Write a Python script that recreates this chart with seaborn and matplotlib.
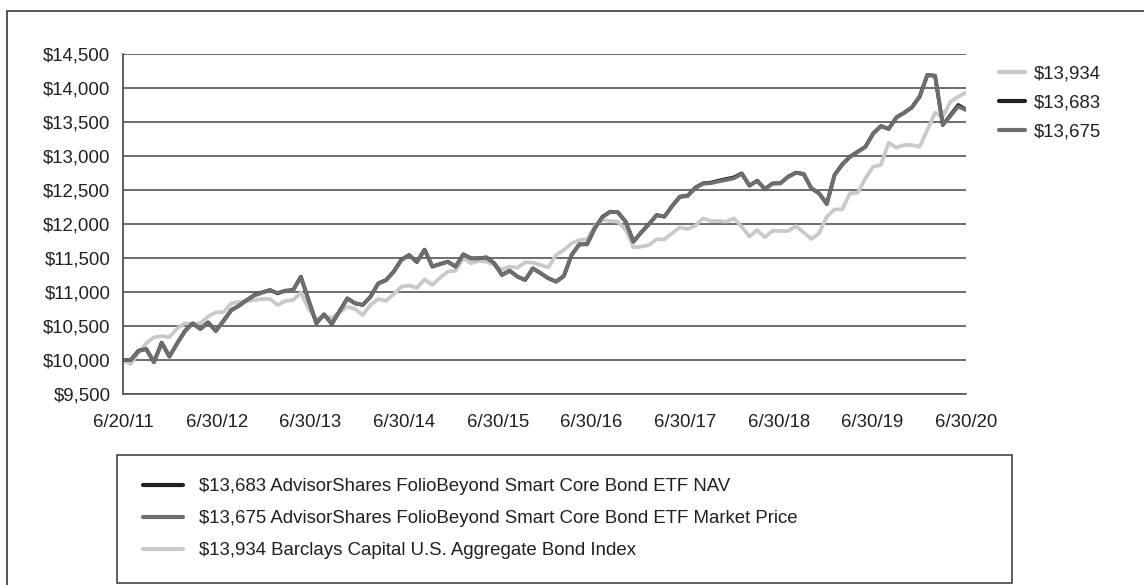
import numpy as np
import pandas as pd
import matplotlib
matplotlib.use("Agg")
import matplotlib.pyplot as plt
import seaborn as sns
from matplotlib.lines import Line2D
from matplotlib.patches import Rectangle

# ---------------- data ----------------
tick_labels = ["6/20/11", "6/30/12", "6/30/13", "6/30/14", "6/30/15",
               "6/30/16", "6/30/17", "6/30/18", "6/30/19", "6/30/20"]

y_ticks = [9500, 10000, 10500, 11000, 11500, 12000, 12500, 13000, 13500, 14000, 14500]

nav_values = [
    10000, 10000, 10137, 10162, 9970, 10255, 10050, 10245, 10426, 10540,
    10456, 10554, 10426, 10578, 10735, 10798, 10882, 10956, 10995, 11029,
    10980, 11019, 11029, 11225, 10880, 10540, 10672, 10529, 10720, 10907,
    10833, 10809, 10931, 11127, 11175, 11299, 11475, 11544, 11440, 11623,
    11373, 11412, 11446, 11373, 11554, 11495, 11495, 11510, 11422, 11250,
    11313, 11225, 11176, 11348, 11275, 11201, 11152, 11235, 11544, 11701,
    11701, 11936, 12107, 12181, 12171, 12034, 11740, 11877, 12000, 12132,
    12107, 12265, 12402, 12416, 12534, 12598, 12608, 12637, 12662, 12686,
    12745, 12564, 12637, 12515, 12598, 12598, 12696, 12755, 12735, 12525,
    12451, 12294, 12721, 12878, 12990, 13064, 13137, 13333, 13441, 13397,
    13569, 13637, 13716, 13873, 14191, 14181, 13456, 13603, 13750, 13683,
]

market_values = [
    10000, 10000, 10130, 10165, 9965, 10250, 10055, 10240, 10420, 10535,
    10460, 10550, 10430, 10570, 10730, 10795, 10880, 10950, 10990, 11025,
    10985, 11015, 11025, 11220, 10875, 10545, 10668, 10532, 10715, 10900,
    10836, 10812, 10928, 11120, 11170, 11295, 11470, 11540, 11445, 11618,
    11378, 11408, 11442, 11378, 11550, 11490, 11498, 11505, 11425, 11255,
    11310, 11228, 11180, 11345, 11278, 11205, 11155, 11232, 11540, 11698,
    11705, 11930, 12102, 12178, 12175, 12030, 11745, 11872, 11995, 12128,
    12110, 12260, 12398, 12410, 12528, 12592, 12600, 12625, 12648, 12672,
    12738, 12568, 12632, 12518, 12594, 12600, 12692, 12750, 12738, 12528,
    12455, 12298, 12715, 12872, 12985, 13060, 13132, 13328, 13436, 13400,
    13565, 13632, 13712, 13868, 14188, 14178, 13460, 13590, 13728, 13675,
]

index_values = [
    10000, 9941, 10108, 10245, 10333, 10353, 10333, 10466, 10540, 10530,
    10540, 10640, 10700, 10706, 10833, 10853, 10868, 10882, 10897, 10897,
    10809, 10868, 10882, 10990, 10750, 10600, 10640, 10620, 10700, 10784,
    10750, 10662, 10809, 10897, 10870, 10970, 11080, 11095, 11060, 11186,
    11103, 11211, 11299, 11313, 11495, 11422, 11456, 11446, 11397, 11333,
    11373, 11358, 11436, 11432, 11397, 11363, 11544, 11618, 11716, 11765,
    11775, 11971, 12059, 12044, 12034, 11912, 11657, 11667, 11691, 11775,
    11775, 11863, 11951, 11926, 11975, 12083, 12044, 12044, 12034, 12083,
    11961, 11814, 11912, 11804, 11902, 11897, 11897, 11971, 11877, 11779,
    11863, 12107, 12215, 12215, 12451, 12461, 12671, 12843, 12868, 13196,
    13123, 13162, 13162, 13137, 13382, 13637, 13578, 13799, 13873, 13934,
]

nav_name = "$13,683 AdvisorShares FolioBeyond Smart Core Bond ETF NAV"
mkt_name = "$13,675 AdvisorShares FolioBeyond Smart Core Bond ETF Market Price"
idx_name = "$13,934 Barclays Capital U.S. Aggregate Bond Index"

series_end = {idx_name: "$13,934", nav_name: "$13,683", mkt_name: "$13,675"}

colors = {nav_name: "#231f20", mkt_name: "#6d6e71", idx_name: "#c9c9c9"}

# ---------------- figure ----------------
sns.set_style("white")
plt.rcParams["font.family"] = ["Liberation Sans", "DejaVu Sans"]
TXT = "#231f20"
FS = 13.4

W, H = 1144, 585
fig = plt.figure(figsize=(W / 100, H / 100), dpi=100)
fx = lambda px: px / W
fy = lambda py: 1 - py / H

ax = fig.add_axes([fx(123), fy(394), (966 - 123) / W, (394 - 54) / H])

n = len(nav_values)
df = pd.concat([
    pd.DataFrame({"step": np.arange(n), "value": index_values, "series": idx_name}),
    pd.DataFrame({"step": np.arange(n), "value": nav_values, "series": nav_name}),
    pd.DataFrame({"step": np.arange(n), "value": market_values, "series": mkt_name}),
], ignore_index=True)

sns.lineplot(data=df, x="step", y="value", hue="series",
             hue_order=[idx_name, nav_name, mkt_name], palette=colors,
             linewidth=2.7, legend=False, ax=ax, sort=False)

ax.set_xlim(0, n - 1)
ax.set_ylim(9500, 14500)
ax.set_xticks(np.linspace(0, n - 1, len(tick_labels)))
ax.set_xticklabels(tick_labels)
ax.set_yticks(y_ticks)
ax.set_yticklabels([f"${v:,}" for v in y_ticks])
ax.set_xlabel("")
ax.set_ylabel("")

ax.yaxis.grid(True, color="#555555", linewidth=1.2, zorder=0)
ax.xaxis.grid(False)
ax.set_axisbelow(True)
for s in ["top", "right"]:
    ax.spines[s].set_visible(False)
ax.spines["left"].set_color("#444444")
ax.spines["left"].set_linewidth(1.2)
ax.spines["bottom"].set_color("#555555")
ax.spines["bottom"].set_linewidth(1.2)

ax.tick_params(axis="x", direction="out", length=6.5, width=1.2, color="#444444",
               pad=8, labelsize=FS, labelcolor=TXT)
ax.tick_params(axis="y", length=0, pad=9, labelsize=FS, labelcolor=TXT)
ax.set_facecolor("white")

# outer frame (left and top edges visible)
fig.add_artist(Line2D([fx(7), fx(7)], [fy(11), fy(590)], transform=fig.transFigure,
                      color="#555555", linewidth=1.4))
fig.add_artist(Line2D([fx(7), fx(1150)], [fy(11), fy(11)], transform=fig.transFigure,
                      color="#555555", linewidth=1.4))

# right-side value legend
order_r = [idx_name, nav_name, mkt_name]
handles_r = [Line2D([0], [0], color=colors[k], linewidth=3.0) for k in order_r]
fig.legend(handles_r, [series_end[k] for k in order_r], loc="upper left",
           bbox_to_anchor=(fx(999), fy(65)), frameon=False, fontsize=FS,
           handlelength=1.4, handletextpad=0.48, labelspacing=0.65,
           borderpad=0, borderaxespad=0, labelcolor=TXT)

# bottom boxed legend
fig.add_artist(Rectangle((fx(117), fy(583)), (1012 - 117) / W, (583 - 455) / H,
                         transform=fig.transFigure, fill=False,
                         edgecolor="#444444", linewidth=1.2))
order_b = [nav_name, mkt_name, idx_name]
handles_b = [Line2D([0], [0], color=colors[k], linewidth=3.0) for k in order_b]
fig.legend(handles_b, order_b, loc="upper left",
           bbox_to_anchor=(fx(143), fy(478)), frameon=False, fontsize=FS,
           handlelength=2.15, handletextpad=0.86, labelspacing=0.81,
           borderpad=0, borderaxespad=0, labelcolor=TXT)

fig.savefig("out.png", dpi=100, facecolor="white")
